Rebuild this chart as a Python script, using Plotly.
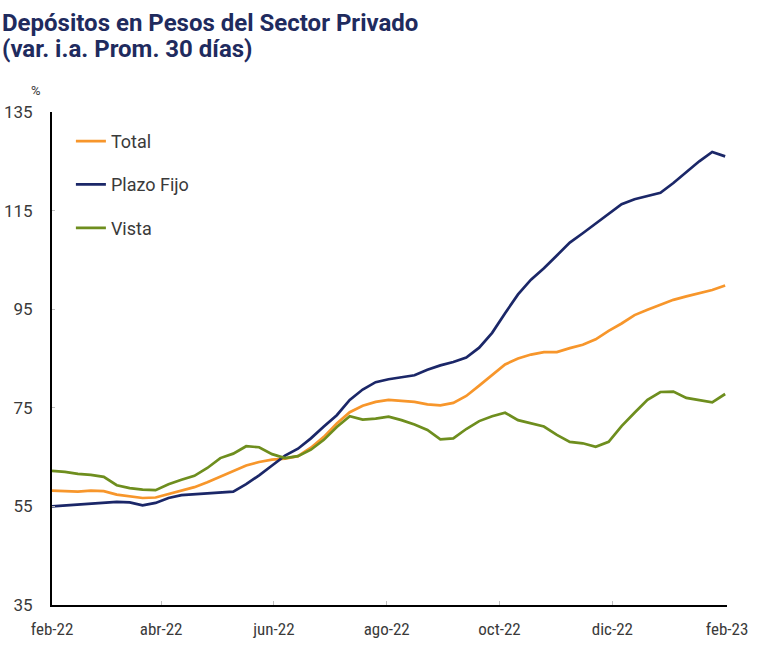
import plotly.graph_objects as go
import pandas as pd

# weekly observations starting 2022-02-01
dates = pd.date_range("2022-02-01", periods=53, freq="7D")

total = [58.2, 58.1, 58.0, 58.2, 58.1, 57.4, 57.0, 56.7, 56.8, 57.5,
         58.2, 58.9, 59.9, 61.0, 62.2, 63.3, 64.0, 64.5, 64.7, 65.2,
         66.9, 69.1, 71.8, 74.1, 75.4, 76.2, 76.6, 76.4, 76.2, 75.7,
         75.5, 76.0, 77.4, 79.5, 81.6, 83.8, 85.0, 85.8, 86.3, 86.3,
         87.1, 87.8, 88.9, 90.6, 92.1, 93.8, 94.9, 95.9, 96.9, 97.6,
         98.2, 98.9, 99.8]
plazo_fijo = [55.0, 55.2, 55.4, 55.6, 55.7, 55.9, 55.8, 55.2, 55.7, 56.7,
              57.3, 57.5, 57.7, 57.8, 58.0, 59.5, 61.3, 63.3, 65.3, 66.7,
              68.8, 71.2, 73.5, 76.6, 78.7, 80.2, 80.8, 81.2, 81.6, 82.7,
              83.6, 84.3, 85.2, 87.2, 90.2, 94.2, 98.0, 101.0, 103.3, 105.9,
              108.5, 110.4, 112.4, 114.3, 116.3, 117.3, 117.9, 118.6, 120.6, 122.8,
              125.0, 126.9, 126.0]
vista = [62.2, 62.0, 61.6, 61.4, 61.0, 59.3, 58.7, 58.4, 58.3, 59.5,
         60.4, 61.2, 62.8, 64.8, 65.7, 67.2, 67.0, 65.6, 64.8, 65.2,
         66.5, 68.5, 71.1, 73.3, 72.6, 72.8, 73.2, 72.5, 71.6, 70.5,
         68.6, 68.8, 70.7, 72.3, 73.3, 74.0, 72.5, 71.9, 71.2, 69.5,
         68.1, 67.8, 67.1, 68.1, 71.3, 74.0, 76.6, 78.2, 78.3, 77.0,
         76.6, 76.1, 77.8]

tick_dates = ["2022-02-01", "2022-04-01", "2022-06-01", "2022-08-01", "2022-10-01",
              "2022-12-01", "2023-02-01"]
tick_labels = ["feb-22", "abr-22", "jun-22", "ago-22", "oct-22", "dic-22", "feb-23"]
y_ticks = [35, 55, 75, 95, 115, 135]

series = [("Total", total, "#F7962B"), ("Plazo Fijo", plazo_fijo, "#1B2768"),
          ("Vista", vista, "#6E8E1E")]

fig = go.Figure()
for name, vals, col in series:
    fig.add_trace(go.Scatter(x=dates, y=vals, name=name, mode="lines", legendgroup=name,
                             line=dict(color=col, width=2.7)))

title_color = "#1F2B5E"
fig.update_layout(
    width=768, height=657,
    margin=dict(l=52, r=41, t=112, b=52, autoexpand=False),
    paper_bgcolor="white", plot_bgcolor="white",
    font=dict(family="Roboto", color="#3a3a3a"),
    legend=dict(x=0.028, y=0.978, xanchor="left", yanchor="top", tracegroupgap=17,
                font=dict(size=18, color="#3a3a3a"), bgcolor="rgba(0,0,0,0)"),
    xaxis=dict(type="date", range=["2022-02-01", "2023-02-01"], tickvals=tick_dates,
               ticktext=tick_labels, showgrid=False, showline=True, linecolor="black",
               linewidth=2, ticks="inside", ticklen=4, tickcolor="#c0c0c0",
               ticklabelstandoff=8, automargin=False,
               tickfont=dict(size=17, color="#3a3a3a",
                             family="Liberation Sans Narrow, Roboto Condensed, Roboto")),
    yaxis=dict(range=[35, 135], tickvals=y_ticks, showgrid=False, showline=True,
               linecolor="black", linewidth=2, ticks="inside", ticklen=3, tickcolor="#c0c0c0",
               ticklabelstandoff=14, automargin=False,
               tickfont=dict(size=17, color="#3a3a3a"), zeroline=False),
    annotations=[
        dict(text="<b>Depósitos en Pesos del Sector Privado</b>",
             xref="paper", yref="paper", x=(0 - 52) / 675, xanchor="left",
             y=1 + (112 - 23) / 493, yanchor="middle", showarrow=False,
             font=dict(size=24, color=title_color, family="Roboto")),
        dict(text="<b>(var. i.a. Prom. 30 días)</b>",
             xref="paper", yref="paper", x=(0 - 52) / 675, xanchor="left",
             y=1 + (112 - 49) / 493, yanchor="middle", showarrow=False,
             font=dict(size=24, color=title_color, family="Roboto")),
        dict(text="%", xref="paper", yref="paper", x=-0.0237, y=1.043,
             xanchor="center", yanchor="middle",
             showarrow=False, font=dict(size=13, color="#3a3a3a")),
    ],
)

fig.write_html("out.html")
